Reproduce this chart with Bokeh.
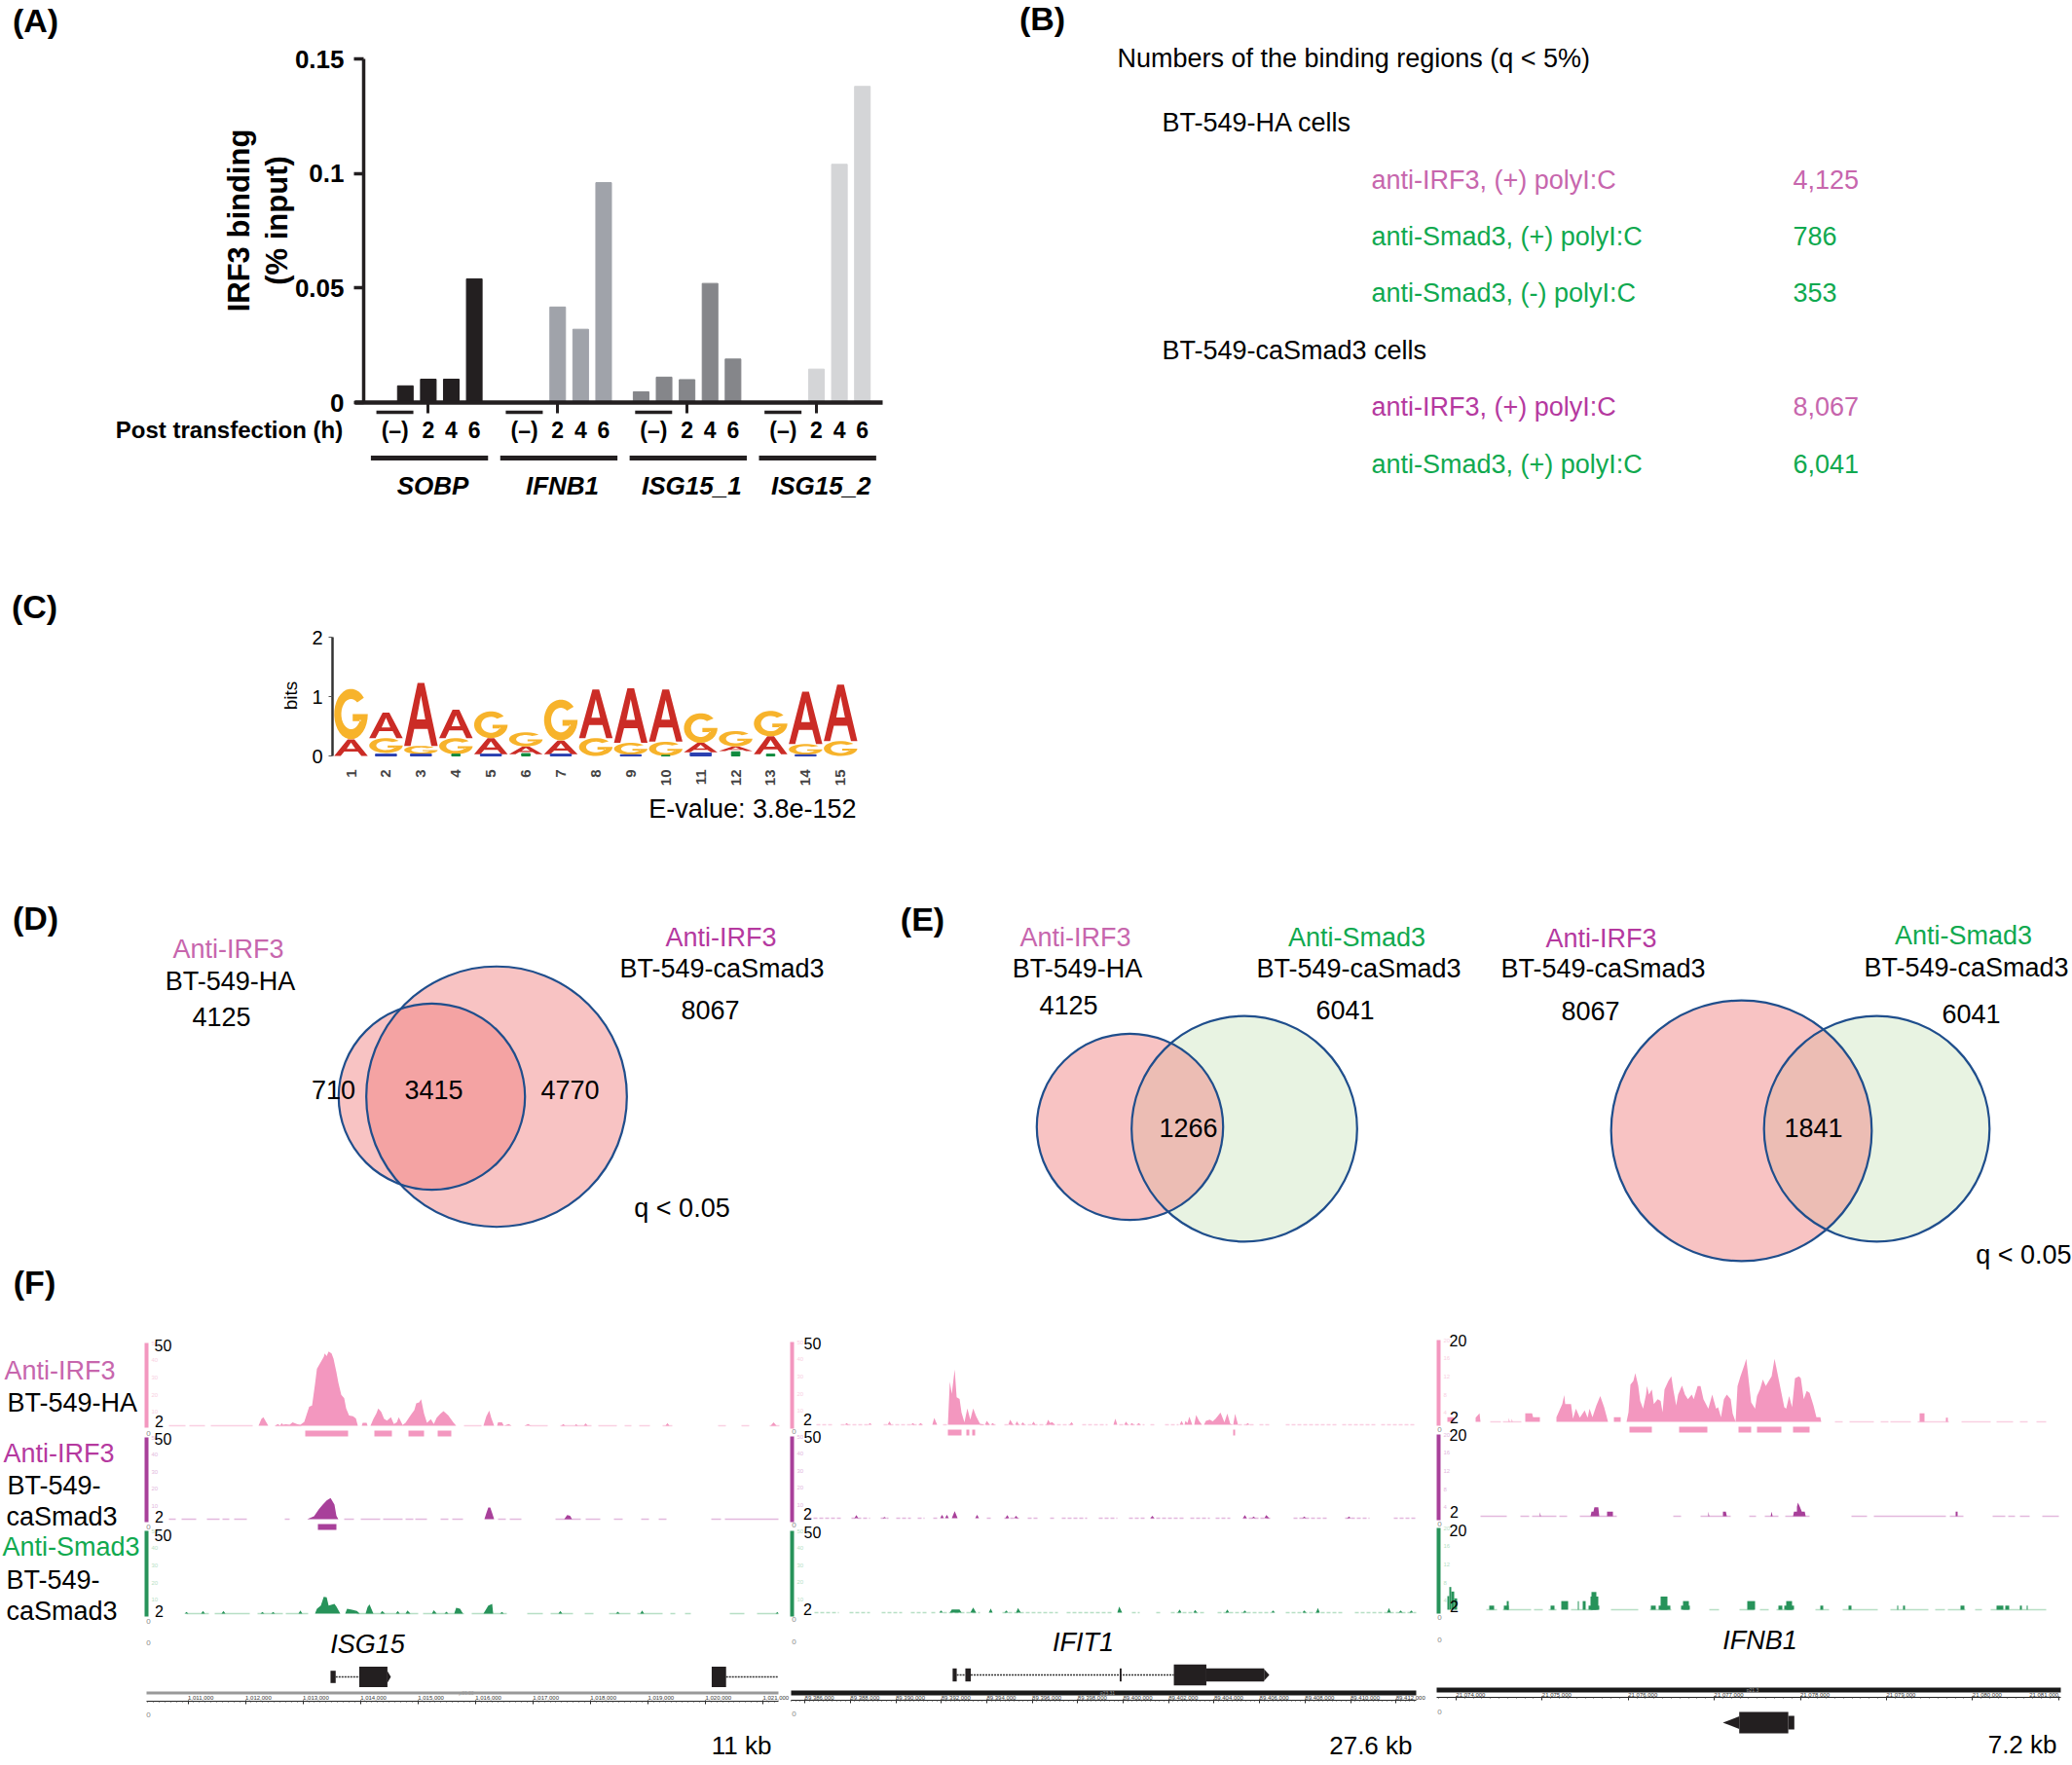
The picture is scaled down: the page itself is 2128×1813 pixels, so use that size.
import numpy as np
from bokeh.core.properties import value
from bokeh.embed import file_html
from bokeh.models import FixedTicker, LinearAxis, Range1d, SingleIntervalTicker
from bokeh.plotting import figure
from bokeh.resources import INLINE

# panel A
genes = ["SOBP", "IFNB1", "ISG15_1", "ISG15_2"]
sobp = [0, 0.0073, 0.0102, 0.0102, 0.054]
ifnb1 = [0, 0, 0.0417, 0.032, 0.096]
isg15_1 = [0.0047, 0.0111, 0.01, 0.052, 0.019]
isg15_2 = [0, 0, 0.0146, 0.104, 0.138]
bar_colors = ["#231f20", "#a0a3aa", "#85868a", "#d4d5d7"]
hours = ["2", "4", "6"]

# panel B
bt_ha_labels = ["anti-IRF3, (+) polyI:C", "anti-Smad3, (+) polyI:C", "anti-Smad3, (-) polyI:C"]
bt_ha_counts = ["4,125", "786", "353"]
bt_ca_labels = ["anti-IRF3, (+) polyI:C", "anti-Smad3, (+) polyI:C"]
bt_ca_counts = ["8,067", "6,041"]

# panel C, stacked two letter logo
logo_low_letter = list("AGGGAAAGGGAAAGG")
logo_floor = [0, 0.05, 0.03, 0.03, 0.03, 0.03, 0.03, 0, 0.02, 0, 0.06, 0.08, 0.03, 0.02, 0]
logo_mid = [0.28, 0.30, 0.17, 0.30, 0.30, 0.16, 0.26, 0.30, 0.22, 0.24, 0.22, 0.16, 0.33, 0.20, 0.25]
logo_top = [1.13, 0.73, 1.23, 0.78, 0.75, 0.40, 0.95, 1.12, 1.14, 1.12, 0.72, 0.42, 0.76, 1.08, 1.20]
logo_blue_pos = [2, 3, 5, 7, 9, 11, 14]
logo_blue_bits = [0.03, 0.03, 0.03, 0.03, 0.02, 0.05, 0.02]
logo_green_pos = [4, 6, 10, 12, 13]
logo_green_bits = [0.03, 0.04, 0.01, 0.07, 0.03]

# panels D, E
count_ha = 4125
count_ca = 8067
count_smad = 6041

# panel F, signal as (browser bin, track value)
isg15_ha = [(115, 2), (118, 6), (120, 7), (122, 5), (125, 2), (132, 2), (135, 3), (137, 2), (139, 3.5),
            (140, 2.6), (143, 2.9), (147, 2.6), (150, 4), (155, 2.9), (158, 2.6), (162, 4.3), (167, 13),
            (170, 13.7), (173, 26), (175, 35), (178, 38), (182, 42), (183, 44), (185, 42.4), (187, 45),
            (190, 44), (192, 41), (195, 33), (197, 27), (200, 20), (203, 18), (205, 12), (208, 8),
            (212, 7.5), (215, 6.3), (217, 2), (221, 2), (222, 3.7), (226, 3.7), (227, 2), (230, 2),
            (233, 6), (236, 9), (238, 12), (241, 10), (244, 6), (247, 5), (251, 7), (254, 3), (257, 4),
            (259, 7), (263, 2.4), (266, 3.7), (271, 8), (275, 11), (277, 15), (280, 15.5), (282, 17.4),
            (285, 9), (288, 3.7), (292, 5.8), (295, 3), (298, 6.7), (302, 9), (305, 10.5), (310, 8),
            (315, 4), (318, 2), (346, 2), (349, 7.5), (352, 10.8), (354, 6.7), (357, 2), (360, 2),
            (361, 4), (365, 4), (367, 2), (372, 3), (375, 2), (388, 2), (392, 3), (395, 2), (426, 2),
            (428, 3), (430, 2), (440, 2), (441, 3), (443, 2), (449, 2), (451, 3.4), (453, 2), (533, 2),
            (535, 3.5), (537, 2), (641, 2), (644, 4), (647, 2)]
isg15_ha_cov = [(23, 40), (44, 60), (66, 109), (132, 159), (326, 344), (394, 412), (425, 457), (464, 483),
                (491, 498), (506, 517), (530, 540), (587, 595), (611, 619), (640, 650)]
isg15_ha_calls = [(163, 207), (234, 252), (269, 285), (299, 313)]

isg15_ca = [(165, 2), (172, 3.7), (177, 7.8), (181, 10.6), (185, 13), (189, 14.4), (193, 10.6), (195, 4),
            (197, 2), (347, 2), (349, 5.6), (351, 8.8), (353, 8.8), (355, 5.6), (357, 2), (429, 2),
            (432, 4.4), (435, 4), (437, 2)]
isg15_ca_cov = [(23, 30), (36, 51), (62, 75), (78, 85), (90, 103), (142, 147), (203, 213), (220, 240),
                (243, 263), (266, 274), (276, 288), (302, 310), (314, 325), (361, 369), (373, 385),
                (420, 446), (451, 466), (480, 489), (508, 516), (526, 534), (580, 590), (594, 649)]
isg15_ca_calls = [(176, 195)]

isg15_smad = [(39, 2), (41, 3), (43, 2), (56, 2), (58, 3.5), (60, 2), (77, 2), (79, 3.5), (81, 2), (117, 2),
              (119, 3), (121, 2), (128, 2), (130, 3), (132, 2), (156, 2), (158, 3.9), (160, 2), (173, 2),
              (175, 4.8), (179, 6.7), (182, 11.8), (185, 11.4), (187, 6.7), (193, 7.6), (195, 6.1), (199, 2),
              (204, 2), (206, 4.8), (211, 4.3), (216, 3.5), (219, 2), (225, 2), (227, 5.8), (229, 7.3),
              (233, 2), (240, 2), (242, 3.5), (245, 2), (256, 2), (258, 3.5), (260, 2), (266, 2), (268, 3.9),
              (271, 2), (293, 2), (295, 4), (298, 2), (306, 2), (308, 3.1), (310, 2), (316, 2), (318, 5.4),
              (322, 4.8), (325, 2), (346, 2), (348, 3.9), (351, 6.7), (355, 7.6), (356, 2), (363, 2),
              (365, 3), (367, 2), (423, 2), (425, 3.5), (427, 2), (482, 2), (484, 3.1), (486, 2), (507, 2),
              (509, 3.9), (511, 2), (646, 2), (648, 3), (649, 2)]
isg15_smad_cov = [(41, 64), (70, 106), (114, 140), (143, 166), (216, 279), (284, 326), (334, 370), (391, 407),
                  (415, 438), (450, 459), (475, 497), (504, 530), (538, 543), (553, 559), (599, 614), (627, 649)]

ifit1_ha = [(54, 2), (56, 3), (58, 2), (78, 2), (80, 3), (82, 2), (98, 2), (100, 4), (102, 2), (122, 2), (124, 3),
            (126, 2), (130, 2), (132, 3), (134, 2), (144, 2), (146, 6), (149, 2), (160, 2), (162, 27), (164, 20),
            (167, 34), (169, 18), (172, 17), (174, 9), (177, 3.4), (180, 11.5), (183, 5), (186, 11.5), (189, 7),
            (193, 2.5), (198, 2), (200, 4.3), (203, 2), (204, 2), (206, 3), (208, 2), (222, 2), (224, 5), (227, 2),
            (229, 2), (231, 4), (233, 2), (235, 2), (237, 3.4), (239, 2), (246, 2), (248, 3.8), (250, 2), (261, 2),
            (263, 5), (265, 3), (267, 3.5), (270, 2), (285, 2), (287, 3.5), (289, 2), (330, 2), (332, 5.6), (334, 2),
            (341, 2), (343, 3.8), (345, 2), (347, 2), (349, 3), (351, 2), (354, 2), (356, 3), (358, 2), (398, 2),
            (400, 4.3), (402, 2), (403, 2), (404, 4.3), (406, 3), (408, 6.7), (411, 2), (413, 2), (415, 7.6), (418, 4.3),
            (421, 2), (423, 2), (425, 4.3), (429, 5), (432, 4), (435, 5.6), (440, 9), (444, 3.4), (447, 8.5), (450, 2.5),
            (453, 2), (455, 8.3), (458, 2), (466, 2), (468, 3), (470, 2)]
ifit1_ha_cov = [(25, 42), (50, 80), (94, 134), (155, 160), (193, 210), (218, 290), (298, 324), (336, 362), (368, 374),
                (383, 397), (458, 475), (480, 492), (507, 560), (565, 600), (605, 641)]
ifit1_ha_calls = [(160, 174), (179, 182), (185, 188), (453, 455)]

ifit1_ca = [(64, 2), (66, 3.8), (68, 2), (93, 2), (95, 2.7), (97, 2), (152, 2), (154, 4), (156, 2), (157, 2), (159, 4),
            (161, 2), (164, 2), (167, 6.1), (170, 2), (188, 2), (190, 4), (192, 2), (219, 2), (221, 3.8), (223, 2),
            (228, 2), (230, 3.4), (232, 2), (368, 2), (370, 3.4), (372, 2), (463, 2), (465, 3.8), (467, 2), (472, 2),
            (474, 3), (476, 2), (485, 2), (487, 3.8), (490, 2), (524, 2), (526, 3), (528, 2), (570, 2), (572, 3), (574, 2)]
ifit1_ca_cov = [(16, 50), (61, 80), (91, 99), (107, 122), (129, 136), (145, 151), (200, 205), (218, 233), (242, 254),
                (265, 271), (277, 303), (315, 334), (346, 362), (368, 402), (409, 429), (435, 450), (463, 492),
                (515, 549), (568, 593), (618, 641)]

ifit1_smad = [(151, 2), (153, 3.3), (155, 2), (162, 2), (164, 3.8), (172, 3.8), (174, 2), (183, 2), (186, 5), (189, 2),
              (202, 2), (204, 4.5), (206, 2), (218, 2), (220, 3.3), (222, 2), (230, 2), (232, 4.7), (235, 2), (334, 2),
              (336, 5.6), (339, 2), (396, 2), (398, 3.8), (400, 2), (412, 2), (414, 3.6), (416, 2), (445, 2), (447, 3.8),
              (449, 2), (463, 2), (465, 3.3), (467, 2), (492, 2), (494, 3.3), (496, 2), (524, 2), (526, 3.3), (528, 2),
              (538, 2), (540, 4.7), (542, 2), (611, 2), (613, 4.7), (615, 2), (623, 2), (625, 3.3), (627, 2), (634, 2),
              (636, 3.3), (638, 2)]
ifit1_smad_cov = [(23, 48), (59, 80), (92, 113), (122, 139), (143, 149), (155, 193), (216, 273), (282, 328), (349, 357),
                  (374, 380), (389, 425), (437, 492), (507, 566), (578, 641)]

ifnb1_ha = [(10, 2), (10, 3), (17, 3), (17, 2), (39, 2), (39, 2.9), (43, 3.9), (44, 2), (73, 2), (73, 2.9), (74, 2),
            (76, 2), (76, 2.7), (77, 2), (90, 2), (90, 3.9), (97, 3.9), (98, 3), (105, 3), (105, 2), (122, 2), (122, 3),
            (128, 5.9), (130, 7.9), (131, 5.9), (137, 5.9), (139, 2.7), (142, 4.9), (146, 2.9), (151, 4.5), (154, 2.9),
            (156, 4.9), (159, 3), (163, 5.6), (167, 7.7), (171, 5.2), (175, 2), (181, 2), (181, 3), (188, 3), (188, 2),
            (194, 2), (196, 4.1), (198, 10.2), (201, 11), (203, 12.7), (206, 10), (208, 6.6), (211, 4.9), (214, 8),
            (215, 9.9), (217, 8), (220, 9.1), (222, 5.9), (226, 7), (229, 6.6), (231, 4.1), (233, 9.1), (237, 11),
            (240, 12), (242, 9.1), (245, 5.6), (247, 8), (251, 10), (254, 8), (257, 7), (261, 8), (263, 7), (267, 9.9),
            (270, 9.9), (273, 7), (278, 4.9), (282, 8), (286, 4.9), (288, 5.2), (291, 3), (294, 7), (297, 8), (301, 7),
            (303, 3.8), (306, 2), (308, 9.9), (311, 12), (315, 14.5), (317, 15.9), (319, 12), (322, 6.3), (326, 4.9),
            (328, 7.7), (331, 9.1), (334, 11.3), (337, 9.9), (341, 11.3), (343, 12), (346, 15.9), (348, 13.8), (352, 9.5),
            (356, 5.2), (358, 4.9), (361, 7.7), (364, 5.2), (367, 11.6), (371, 12), (373, 11.6), (376, 7), (379, 8.8),
            (382, 8.4), (386, 5.6), (389, 3), (393, 3), (394, 2), (495, 2), (495, 3.9), (500, 3.9), (500, 2), (522, 2),
            (522, 2.9), (524, 2.9), (524, 2)]
ifnb1_ha_cov = [(54, 65), (67, 86), (408, 416), (423, 448), (455, 463), (465, 486), (493, 525), (538, 568), (574, 591),
                (598, 606), (615, 625)]
ifnb1_ha_calls = [(197, 220), (248, 277), (309, 322), (328, 353), (365, 382)]

ifnb1_ca = [(105, 2), (105, 2.9), (106, 2), (157, 2), (158, 3), (160, 3), (161, 4), (165, 4), (166, 2), (174, 2), (174, 3),
            (180, 3), (180, 2), (278, 2), (278, 3), (279, 2), (293, 2), (293, 3), (296, 3), (297, 2), (342, 2), (343, 3),
            (344, 2), (365, 2), (366, 3), (369, 3), (369, 4.1), (370, 5), (372, 4.1), (374, 3), (377, 3), (378, 2), (532, 2),
            (532, 3), (534, 3), (534, 2)]
ifnb1_ca_cov = [(44, 71), (85, 94), (97, 122), (125, 133), (146, 184), (242, 250), (270, 301), (320, 327), (336, 350),
                (357, 382), (425, 441), (448, 522), (526, 540), (570, 583), (586, 593), (598, 608), (621, 638)]

# (first bin, last bin, track value)
ifnb1_smad_blocks = [(10, 12, 5), (12, 14, 7), (14, 17, 6), (17, 20, 4.5), (53, 58, 2.9), (68, 73, 2.9), (71, 73, 3.9),
                     (116, 120, 2.9), (127, 134, 3.9), (144, 145, 3.9), (149, 152, 3.9), (155, 166, 2.9), (157, 165, 4.9),
                     (158, 163, 5.9), (219, 224, 2.9), (227, 239, 2.9), (229, 236, 4.9), (250, 259, 2.9), (252, 258, 3.9),
                     (318, 326, 3.9), (350, 354, 2.9), (356, 366, 2.9), (358, 364, 3.9), (393, 396, 2.9), (422, 425, 2.9),
                     (472, 473, 2.9), (478, 480, 2.9), (537, 541, 2.9), (574, 581, 2.9), (583, 587, 2.9), (598, 600, 2.9),
                     (605, 606, 2.9)]
ifnb1_smad_cov = [(50, 61), (67, 96), (99, 108), (114, 122), (137, 159), (178, 206), (218, 240), (279, 289), (310, 325),
                  (331, 340), (348, 365), (388, 402), (416, 452), (465, 504), (511, 521), (524, 542), (552, 559), (568, 625)]

# genome rulers and gene models (bp)
isg15_ruler = [1011000, 1012000, 1013000, 1014000, 1015000, 1016000, 1017000, 1018000, 1019000, 1020000, 1021000]
ifit1_ruler = [89386000, 89388000, 89390000, 89392000, 89394000, 89396000, 89398000, 89400000, 89402000, 89404000,
               89406000, 89408000, 89410000, 89412000]
ifnb1_ruler = [21074000, 21075000, 21076000, 21077000, 21078000, 21079000, 21080000, 21081000]
isg15_tall = [(1013980, 1014470), (1020110, 1020360)]
isg15_mid = [(1013480, 1013570)]
isg15_introns = [(1013570, 1013980), (1020360, 1021270)]
ifit1_tall = [(89402230, 89403660)]
ifit1_mid = [(89392500, 89392680), (89393060, 89393300), (89399850, 89399930), (89403660, 89406200)]
ifit1_introns = [(89392680, 89393060), (89393300, 89402230)]
ifnb1_tall = [(21077290, 21077860)]
ifnb1_mid = [(21077860, 21077930)]

FONT = value("Liberation Sans")
X0, X1, Y_BOTTOM, Y_TOP = 0, 2128, 1813, 0
PINK = "#c766ad"
MAGENTA = "#b5399f"
GREEN = "#10a94f"
TXT = 27


def span(v0, p0, v1, p1, lo, hi):
    # range whose value v0 lands on pixel p0 and v1 on pixel p1
    k = (v1 - v0) / (p1 - p0)
    return Range1d(start=v0 + (lo - p0) * k, end=v0 + (hi - p0) * k)


p = figure(width=X1 - X0, height=Y_BOTTOM - Y_TOP, x_range=(X0, X1), y_range=(Y_BOTTOM, Y_TOP),
           x_axis_type=None, y_axis_type=None, output_backend="svg", toolbar_location=None, tools="",
           min_border=0, outline_line_color=None)
p.grid.visible = False
p.background_fill_color = "white"


def put(x, y, text, size=TXT, color="black", align="center", style="normal", angle=0):
    p.text(x=[x], y=[y], text=[text], text_font=FONT, text_font_size=f"{size}px", text_color=color,
           text_align=align, text_baseline="middle", text_font_style=style, angle=angle)


for label, x, y in [("(A)", 36, 20), ("(B)", 1070, 18), ("(C)", 35, 622), ("(D)", 36, 942), ("(E)", 947, 943), ("(F)", 35, 1316)]:
    put(x, y, label, 34, style="bold")

# ---------- A
GROUP_GAP = 5.63
p.extra_x_ranges["slot"] = span(0, 439.4, 1, 463, X0, X1)
p.extra_y_ranges["irf3"] = span(0, 413, 0.15, 60, Y_BOTTOM, Y_TOP)
for g, vals in enumerate([sobp, ifnb1, isg15_1, isg15_2]):
    center = g * GROUP_GAP
    xs = [center + s for s in (-2, -1, 0, 1, 2)]
    p.vbar(x=xs, top=vals, bottom=0, width=0.68, color=bar_colors[g], x_range_name="slot", y_range_name="irf3")
    p.segment(x0=[center - 2.26], x1=[center - 0.65], y0=[423], y1=[423], line_color="#231f20", line_width=3.5,
              x_range_name="slot")
    p.segment(x0=[center - 2.5], x1=[center + 2.6], y0=[470], y1=[470], line_color="#231f20", line_width=5,
              x_range_name="slot")
    p.text(x=[center - 1.45], y=[441], text=["(–)"], text_font=FONT, text_font_size="23px", text_font_style="bold",
           text_align="center", text_baseline="middle", x_range_name="slot")
    p.text(x=[center, center + 1, center + 2], y=[441] * 3, text=hours, text_font=FONT, text_font_size="23px",
           text_font_style="bold", text_align="center", text_baseline="middle", x_range_name="slot")
    p.text(x=[center + 0.2], y=[498], text=[genes[g]], text_font=FONT, text_font_size="26px",
           text_font_style="bold italic", text_align="center", text_baseline="middle", x_range_name="slot")

y_axis = LinearAxis(y_range_name="irf3", fixed_location=373, bounds=(0, 0.15),
                    ticker=FixedTicker(ticks=[0, 0.05, 0.1, 0.15]), minor_tick_line_color=None,
                    major_tick_out=10, major_tick_in=0, major_tick_line_width=3.5, axis_line_width=3.5,
                    major_label_text_font="Liberation Sans", major_label_text_font_size="26px",
                    major_label_text_font_style="bold", major_label_text_color="black", major_label_standoff=10,
                    axis_line_color="#231f20", major_tick_line_color="#231f20")
p.add_layout(y_axis, "left")
x_axis = LinearAxis(x_range_name="slot", fixed_location=413, bounds=(-3.19, 19.75),
                    ticker=FixedTicker(ticks=[g * GROUP_GAP for g in range(4)]), minor_tick_line_color=None,
                    major_tick_out=11, major_tick_in=0, major_tick_line_width=3, axis_line_width=4.5,
                    major_label_text_color=None, axis_line_color="#231f20", major_tick_line_color="#231f20")
p.add_layout(x_axis, "below")
put(245, 226, "IRF3 binding", 31, style="bold", angle=np.pi / 2)
put(284, 226, "(% input)", 31, style="bold", angle=np.pi / 2)
put(235, 441, "Post transfection (h)", 24, style="bold")

# ---------- B
put(1147, 59, "Numbers of the binding regions (q < 5%)", align="left")
put(1193, 125, "BT-549-HA cells", align="left")
put(1193, 359, "BT-549-caSmad3 cells", align="left")
for label, count, y, col in zip(bt_ha_labels, bt_ha_counts, [184, 242, 300], [PINK, GREEN, GREEN]):
    put(1408, y, label, color=col, align="left")
    put(1841, y, count, color=col, align="left")
for label, count, y, col, ccol in zip(bt_ca_labels, bt_ca_counts, [417, 476], [MAGENTA, GREEN], [PINK, GREEN]):
    put(1408, y, label, color=col, align="left")
    put(1841, y, count, color=ccol, align="left")

# ---------- C
p.extra_x_ranges["logo"] = span(1, 360, 15, 862.8, X0, X1)
p.extra_y_ranges["bits"] = span(0, 776, 2, 654, Y_BOTTOM, Y_TOP)

t_out = np.radians(np.linspace(40, 360, 30))
t_in = np.radians(np.linspace(340, 50, 24))
LETTER_G = ([list(0.5 + 0.5 * np.cos(t_out)) + [0.55, 0.55, 0.8] + list(0.5 + 0.29 * np.cos(t_in))],
            [list(0.5 + 0.5 * np.sin(t_out)) + [0.5, 0.36, 0.36] + list(0.5 + 0.3 * np.sin(t_in))])
LETTER_A = ([[0, 0.19, 0.3, 0.7, 0.81, 1, 0.6, 0.4], [0.37, 0.63, 0.5]],
            [[0, 0, 0.27, 0.27, 0, 0, 1, 1], [0.42, 0.42, 0.8]])
LOGO_COLORS = {"A": "#cb2c26", "G": "#f7b32b"}


def letter(ch, pos, y0, y1):
    ux, uy = LETTER_A if ch == "A" else LETTER_G
    xs = [[[[pos - 0.48 + 0.96 * u for u in ring] for ring in ux]]]
    ys = [[[[y0 + (y1 - y0) * v for v in ring] for ring in uy]]]
    p.multi_polygons(xs=xs, ys=ys, fill_color=LOGO_COLORS[ch], line_color=None, x_range_name="logo", y_range_name="bits")


for i, low in enumerate(logo_low_letter):
    up = "G" if low == "A" else "A"
    letter(low, i + 1, logo_floor[i], logo_mid[i])
    letter(up, i + 1, logo_mid[i], logo_top[i])
p.quad(left=[q - 0.3 for q in logo_blue_pos], right=[q + 0.3 for q in logo_blue_pos], top=logo_blue_bits, bottom=0,
       color="#2a3fb0", x_range_name="logo", y_range_name="bits")
p.quad(left=[q - 0.12 for q in logo_green_pos], right=[q + 0.12 for q in logo_green_pos], top=logo_green_bits, bottom=0,
       color="#108a3e", x_range_name="logo", y_range_name="bits")

bits_axis = LinearAxis(y_range_name="bits", fixed_location=341, bounds=(0, 2), ticker=FixedTicker(ticks=[0, 1, 2]),
                       minor_tick_line_color=None, major_tick_out=4, major_tick_in=0, axis_line_width=2.5,
                       axis_line_color="#333333", major_tick_line_color="#555555",
                       major_label_text_font="Liberation Sans", major_label_text_font_size="20px",
                       major_label_text_color="black", major_label_standoff=6)
p.add_layout(bits_axis, "left")
pos_axis = LinearAxis(x_range_name="logo", fixed_location=783, ticker=FixedTicker(ticks=list(range(1, 16))),
                      minor_tick_line_color=None, major_tick_line_color=None, axis_line_color=None,
                      major_label_orientation=np.pi / 2, major_label_text_font="Liberation Sans",
                      major_label_text_font_size="15px", major_label_text_font_style="bold",
                      major_label_text_color="#444444", major_label_standoff=1)
p.add_layout(pos_axis, "below")
put(298, 714, "bits", 19, angle=np.pi / 2)
put(879, 830, "E-value: 3.8e-152", align="right")

# ---------- D, E
VENN_K = 1.49  # px per sqrt(region)
r_ha, r_ca, r_smad = [VENN_K * np.sqrt(c) for c in (count_ha, count_ca, count_smad)]
VENN_EDGE = "#1f4e8c"
SALMON = "#f08080"

p.circle(x=[509.5, 443], y=[1126, 1126], radius=[r_ca, r_ha], fill_color=SALMON, fill_alpha=0.47, line_color=None)
p.circle(x=[1277.5, 1927], y=[1159, 1159], radius=[r_smad, r_smad], fill_color="#e8f3e2", line_color=None)
p.circle(x=[1160, 1788], y=[1157, 1161], radius=[r_ha, r_ca], fill_color=SALMON, fill_alpha=0.47, line_color=None)
p.circle(x=[509.5, 443, 1277.5, 1927, 1160, 1788], y=[1126, 1126, 1159, 1159, 1157, 1161],
         radius=[r_ca, r_ha, r_smad, r_smad, r_ha, r_ca], fill_color=None, line_color=VENN_EDGE, line_width=2.2)

put(234, 974, "Anti-IRF3", color=PINK)
put(236, 1007, "BT-549-HA")
put(227, 1044, str(count_ha))
put(740, 962, "Anti-IRF3", color=MAGENTA)
put(741, 994, "BT-549-caSmad3")
put(729, 1037, str(count_ca))
put(342, 1119, "710")
put(445, 1119, "3415")
put(585, 1119, "4770")
put(700, 1240, "q < 0.05")
put(1104, 962, "Anti-IRF3", color=PINK)
put(1106, 994, "BT-549-HA")
put(1097, 1032, str(count_ha))
put(1393, 962, "Anti-Smad3", color=GREEN)
put(1395, 994, "BT-549-caSmad3")
put(1381, 1037, str(count_smad))
put(1220, 1158, "1266")
put(1644, 963, "Anti-IRF3", color=MAGENTA)
put(1646, 994, "BT-549-caSmad3")
put(1633, 1038, str(count_ca))
put(2016, 960, "Anti-Smad3", color=GREEN)
put(2019, 993, "BT-549-caSmad3")
put(2024, 1041, str(count_smad))
put(1862, 1158, "1841")
put(2127, 1288, "q < 0.05", align="right")

# ---------- F
TRACK_COLORS = [("#f397bf", "#f9d0e2"), ("#a8409a", "#e3b8dd"), ("#27935a", "#b7dfc5")]
TRACK_LABEL_FONT = 16
DOTTED = value([4, 2])


def draw_track(col, row, left, top_px, base_px, bar_end, ymax, signal, cov, calls=None, blocks=None, dash="solid"):
    name = f"t{col}{row}"
    p.extra_y_ranges[name] = span(2, base_px, ymax, top_px, Y_BOTTOM, Y_TOP)
    bins = f"w{col}"
    main, pale = TRACK_COLORS[row]
    p.quad(left=[left - 2], right=[left + 2], top=[top_px], bottom=[bar_end], color=main, line_color=None)
    p.segment(x0=[c[0] for c in cov], x1=[c[1] for c in cov], y0=[2] * len(cov), y1=[2] * len(cov), line_color=pale,
              line_width=1.5, line_dash=dash, x_range_name=bins, y_range_name=name)
    if signal is not None:
        p.varea(x=[s[0] for s in signal], y1=[2] * len(signal), y2=[s[1] for s in signal], fill_color=main,
                x_range_name=bins, y_range_name=name)
    if blocks is not None:
        p.quad(left=[b[0] for b in blocks], right=[b[1] for b in blocks], top=[b[2] for b in blocks], bottom=2,
               color=main, line_color=None, x_range_name=bins, y_range_name=name)
    if calls is not None:
        p.quad(left=[c[0] for c in calls], right=[c[1] for c in calls], top=base_px + 5, bottom=base_px + 11,
               color=main, line_color=None, x_range_name=bins)
    # faint scale ticks beside the coloured bar
    scale = [ymax * i / 5 for i in range(1, 6)]
    p.text(x=[left + 5] * 5, y=scale, text=[str(int(s)) for s in scale], text_font=FONT, text_font_size="6px",
           text_color=pale, text_baseline="middle", y_range_name=name)


def draw_ruler(col, left, right, ticks, step, per_kb_from, band_y, axis_y, label_y, band_color, band_text, last_align="left"):
    g = f"g{col}"
    lo = per_kb_from[0] + (left - per_kb_from[1]) * per_kb_from[2]
    hi = per_kb_from[0] + (right - per_kb_from[1]) * per_kb_from[2]
    p.quad(left=[lo], right=[hi], top=[band_y[0]], bottom=[band_y[1]], color=band_color, line_color=None, x_range_name=g)
    axis = LinearAxis(x_range_name=g, fixed_location=axis_y, bounds=(lo, hi),
                      ticker=SingleIntervalTicker(interval=step, num_minor_ticks=10), major_tick_out=3, major_tick_in=1,
                      minor_tick_out=1, minor_tick_in=0, axis_line_width=1, axis_line_color="#222222",
                      major_tick_line_color="#222222", minor_tick_line_color="#444444", major_label_text_color=None)
    p.add_layout(axis, "below")
    p.text(x=ticks[:-1], y=[label_y] * (len(ticks) - 1), text=[f"{t:,}" for t in ticks[:-1]], text_font=FONT,
           text_font_size="6px", text_color="#333333", text_align="left", text_baseline="middle", x_range_name=g)
    p.text(x=ticks[-1:], y=[label_y], text=[f"{ticks[-1]:,}"], text_font=FONT, text_font_size="6px", text_color="#333333",
           text_align=last_align, text_baseline="middle", x_range_name=g)
    put((left + right) / 2 + 4, band_y[0] + (band_y[1] - band_y[0]) / 2, band_text, 5, color="#999999")


def exons(col, items, center, half):
    if items:
        p.quad(left=[e[0] for e in items], right=[e[1] for e in items], top=center - half, bottom=center + half,
               color="#231f20", line_color=None, x_range_name=f"g{col}")


def introns(col, items, y):
    p.segment(x0=[e[0] for e in items], x1=[e[1] for e in items], y0=[y] * len(items), y1=[y] * len(items),
              line_color="#333333", line_width=1.5, line_dash=value([2, 1]), x_range_name=f"g{col}")


def tip(col, base, point, center, half):
    p.patch(x=[base, point, base], y=[center - half, center, center + half], color="#231f20", line_color=None,
            x_range_name=f"g{col}")


LEFTS = [150, 813, 1476]
for c, left in enumerate(LEFTS):
    p.extra_x_ranges[f"w{c}"] = span(0, left, 100, left + 100, X0, X1)
p.extra_x_ranges["g0"] = span(1011000, 192.5, 1012000, 251.55, X0, X1)
p.extra_x_ranges["g1"] = span(89386000, 826.1, 89388000, 872.8, X0, X1)
p.extra_x_ranges["g2"] = span(21074000, 1494.9, 21075000, 1583.3, X0, X1)

draw_track(0, 0, 150, 1379, 1464, 1466, 50, isg15_ha, isg15_ha_cov, calls=isg15_ha_calls)
draw_track(0, 1, 150, 1476, 1560, 1563, 50, isg15_ca, isg15_ca_cov, calls=isg15_ca_calls)
draw_track(0, 2, 150, 1572, 1657, 1660, 50, isg15_smad, isg15_smad_cov)
draw_track(1, 0, 813, 1378, 1463, 1467, 50, ifit1_ha, ifit1_ha_cov, calls=ifit1_ha_calls, dash=DOTTED)
draw_track(1, 1, 813, 1475, 1559, 1563, 50, ifit1_ca, ifit1_ca_cov, dash=DOTTED)
draw_track(1, 2, 813, 1572, 1656, 1660, 50, ifit1_smad, ifit1_smad_cov, dash=DOTTED)
draw_track(2, 0, 1477, 1376, 1460, 1464, 20, ifnb1_ha, ifnb1_ha_cov, calls=ifnb1_ha_calls)
draw_track(2, 1, 1477, 1473, 1557, 1561, 20, ifnb1_ca, ifnb1_ca_cov)
draw_track(2, 2, 1477, 1569, 1653, 1657, 20, None, ifnb1_smad_cov, blocks=ifnb1_smad_blocks)

for x, y, t in [(167, 1381, "50"), (163, 1459, "2"), (167, 1477, "50"), (163, 1557, "2"), (167, 1576, "50"), (163, 1654, "2"),
                (834, 1379, "50"), (829, 1457, "2"), (834, 1475, "50"), (829, 1554, "2"), (834, 1573, "50"), (829, 1652, "2"),
                (1497, 1376, "20"), (1493, 1455, "2"), (1497, 1473, "20"), (1493, 1552, "2"), (1497, 1571, "20"), (1493, 1649, "2")]:
    put(x, y, t, TRACK_LABEL_FONT)

for x, ys in [(152, [1472, 1568, 1665, 1687, 1761]), (815, [1470, 1566, 1663, 1686, 1760]), (1478, [1468, 1565, 1661, 1684, 1758])]:
    p.text(x=[x] * len(ys), y=ys, text=["0"] * len(ys), text_font=FONT, text_font_size="8px", text_color="#888888",
           text_align="center", text_baseline="middle")

put(4, 1407, "Anti-IRF3", color=PINK, align="left")
put(7, 1440, "BT-549-HA", align="left")
put(3, 1492, "Anti-IRF3", color=MAGENTA, align="left")
put(7, 1525, "BT-549-", align="left")
put(6, 1557, "caSmad3", align="left")
put(2, 1588, "Anti-Smad3", color=GREEN, align="left")
put(6, 1622, "BT-549-", align="left")
put(6, 1654, "caSmad3", align="left")

put(377, 1688, "ISG15", 27, style="italic")
put(1112, 1686, "IFIT1", 27, style="italic")
put(1807, 1684, "IFNB1", 27, style="italic")
put(792, 1792, "11 kb", 26, align="right")
put(1450, 1792, "27.6 kb", 26, align="right")
put(2112, 1791, "7.2 kb", 26, align="right")

draw_ruler(0, 150, 799, isg15_ruler, 1000, (1011000, 192.5, 1000 / 59.05), (1737, 1740), 1747, 1743, "#999999", "p36.33")
draw_ruler(1, 812, 1454, ifit1_ruler, 2000, (89386000, 826.1, 2000 / 46.7), (1736, 1741), 1746, 1743, "#1a1a1a", "q23.31")
draw_ruler(2, 1475, 2116, ifnb1_ruler, 1000, (21074000, 1494.9, 1000 / 88.4), (1733, 1738), 1743, 1740, "#1a1a1a", "p21.3",
           last_align="right")

introns(0, isg15_introns, 1722)
exons(0, isg15_tall, 1722, 10.5)
exons(0, isg15_mid, 1722, 6.3)
tip(0, isg15_tall[0][1], 1014530, 1722, 6)
introns(1, ifit1_introns, 1720)
exons(1, ifit1_tall, 1720, 10.8)
exons(1, ifit1_mid, 1720, 6.7)
tip(1, ifit1_mid[-1][1], 89406430, 1720, 6)
exons(2, ifnb1_tall, 1769, 11)
exons(2, ifnb1_mid, 1769, 7)
tip(2, ifnb1_tall[0][0], 21077100, 1769, 6.5)

open("out.html", "w").write(file_html(p, INLINE))
